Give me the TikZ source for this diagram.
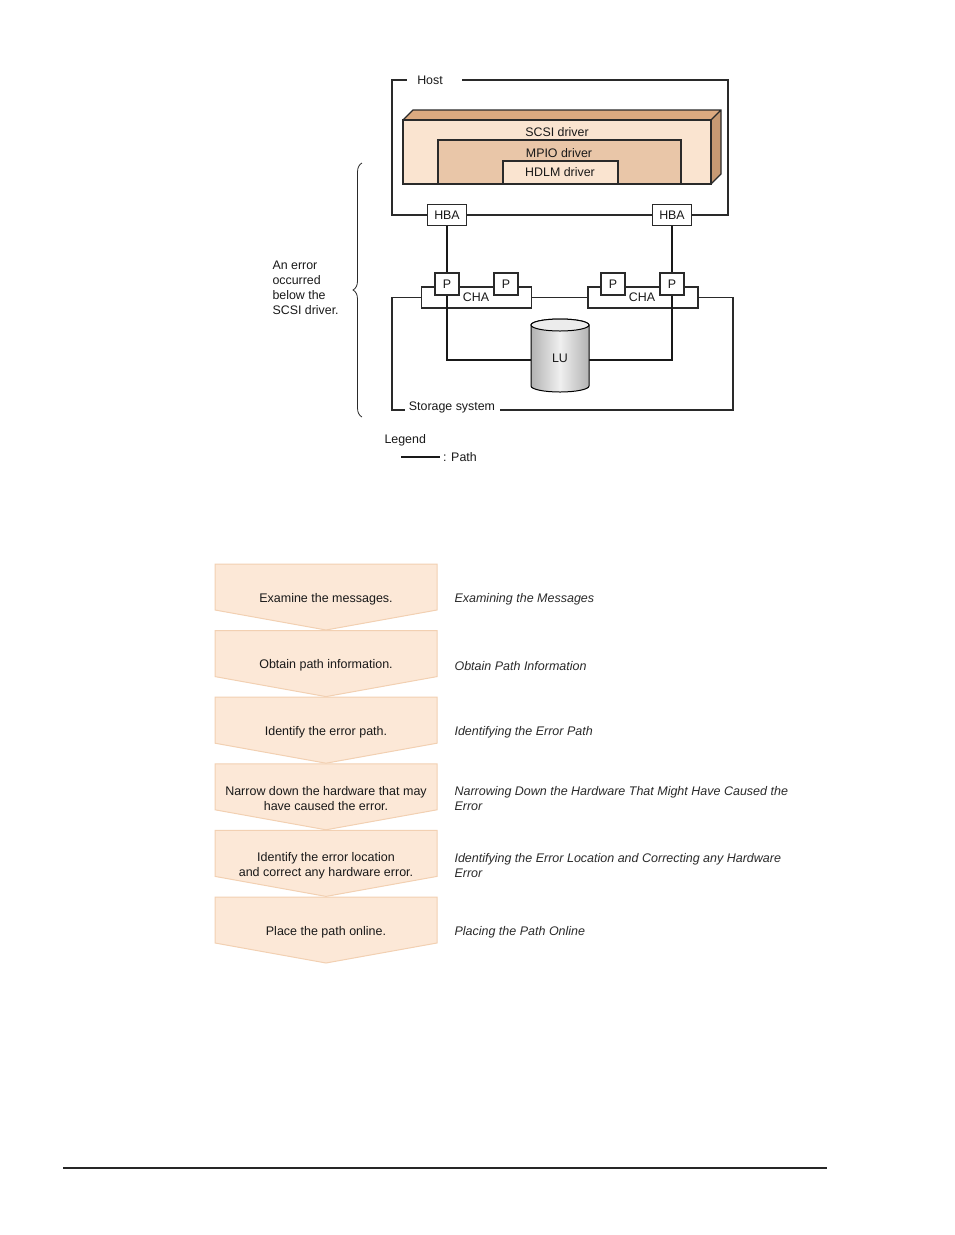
\documentclass[tikz,border=0pt]{standalone}
\usepackage{fontspec}
\setmainfont{Liberation Sans}
\usetikzlibrary{decorations.pathreplacing}
\definecolor{drvlight}{HTML}{FAE4D0}
\definecolor{drvdark}{HTML}{DCAA80}
\definecolor{mpiofill}{HTML}{E9C6A8}
\definecolor{stepfill}{HTML}{FCE8D7}
\definecolor{stepedge}{HTML}{F2D0B2}
\definecolor{framegray}{HTML}{2A2A2A}
\definecolor{reftext}{HTML}{2A2A2A}

\begin{document}
\begin{tikzpicture}[x=1pt, y=-1pt,
    every node/.style={font=\fontsize{12.4}{15}\selectfont, text=black!90},
    frame/.style={draw=framegray, line width=1.1pt},
    hw/.style={draw=framegray, fill=white, line width=1.1pt, inner sep=0pt},
    pathline/.style={draw=black!90, line width=1.8pt},
    chevron/.style={fill=stepfill, draw=stepedge, line width=1pt},
    steptext/.style={align=center, font=\fontsize{12.5}{15}\selectfont},
    reftext/.style={align=left, anchor=west, text=reftext, font=\fontsize{12.5}{15}\selectfont\itshape}]
    \useasboundingbox (0,0) rectangle (954,1235);

    % host and drivers
    \fill[drvdark] (403,120) -- (413,110) -- (721,110) -- (711,120) -- cycle;
    \fill[drvdark!90!black] (711,120) -- (721,110) -- (721,174) -- (711,184) -- cycle;
    \draw[frame] (403,120) -- (413,110) -- (721,110) -- (721,174) -- (711,184) (711,120) -- (721,110);
    \draw[frame, fill=drvlight] (403,120) rectangle (711,184);
    \draw[frame, fill=mpiofill] (438,140) rectangle (681,184);
    \draw[frame, fill=drvlight] (503,161) rectangle (618,184);
    \node (scsi) at (557,132.5) {SCSI driver};
    \node (mpio) at (559,153.5) {MPIO driver};
    \node (hdlm) at (560,172.5) {HDLM driver};

    \node (host) at (430,80.5) {Host};
    \node[hw, minimum width=39, minimum height=21] (hbaL) at (447,215) {HBA};
    \node[hw, minimum width=39, minimum height=21] (hbaR) at (672,215) {HBA};
    \draw[frame] (hbaL.west) -| (392,80) -- (407,80);
    \draw[frame] (462,80) -| (728,215) -- (hbaR.east);
    \draw[frame] (hbaL) -- (hbaR);

    % storage system
    \node[hw, minimum width=110, minimum height=21] (chaL) at (476.5,297.5) {};
    \node[hw, minimum width=110, minimum height=21] (chaR) at (643,297.5) {};
    \node (storage) at (452,407.5) {Storage system};
    \draw[frame] (chaL.west) -| (392,410) -- (405,410);
    \draw[frame] (500,410) -| (733,297.5) -- (chaR.east);
    \draw[frame] (chaL) -- (chaR);

    % LU
    \draw[line width=1pt, left color=gray!60, right color=gray!60, middle color=gray!12]
        (531,325) -- (531,386) arc[start angle=180, end angle=360, x radius=29pt, y radius=6pt]
        -- (589,325) arc[start angle=0, end angle=180, x radius=29pt, y radius=6pt] -- cycle;
    \draw[line width=1pt, fill=gray!15] (560,325) ellipse[x radius=29pt, y radius=6pt];
    \node (lu) at (560,358.5) {LU};
    \coordinate (luL) at (531,360);
    \coordinate (luR) at (589,360);

    % paths
    \draw[pathline] (hbaL.south) |- (luL);
    \draw[pathline] (hbaR.south) |- (luR);

    \node[hw, minimum width=24, minimum height=22] (pA) at (447,284) {P};
    \node[hw, minimum width=24, minimum height=22] (pB) at (506,284) {P};
    \node[hw, minimum width=24, minimum height=22] (pC) at (613,284) {P};
    \node[hw, minimum width=24, minimum height=22] (pD) at (672,284) {P};
    \node (chaLtxt) at (476,297.5) {CHA};
    \node (chaRtxt) at (642,297.5) {CHA};

    % brace
    \node[align=left, anchor=west] (err) at (269,287.5) {An error\\occurred\\below the\\SCSI driver.};
    \draw[framegray, line width=0.8pt, decorate, decoration={brace, amplitude=9pt}] (362,417) -- (362,163);

    % legend
    \node[anchor=west] (legend) at (381,440) {Legend};
    \node[anchor=west, inner sep=3pt] (legpath) at (440,457) {: Path};
    \coordinate (legA) at (401,457);
    \draw[pathline] (legA) -- (legpath.west);

    % procedure
    \foreach \i/\txt/\rtxt in {
        0/{Examine the messages.}/{Examining the Messages},
        1/{Obtain path information.}/{Obtain Path Information},
        2/{Identify the error path.}/{Identifying the Error Path},
        3/{Narrow down the hardware that may\\have caused the error.}/{Narrowing Down the Hardware That Might Have Caused the\\Error},
        4/{Identify the error location\\and correct any hardware error.}/{Identifying the Error Location and Correcting any Hardware\\Error},
        5/{Place the path online.}/{Placing the Path Online}} {
        \pgfmathsetmacro\ytop{564+66.6*\i}
        \draw[chevron] (215,\ytop) -- (437,\ytop) -- (437,\ytop+46) -- (326,\ytop+66) -- (215,\ytop+46) -- cycle;
        \node[steptext] (step\i) at (326,\ytop+35) {\txt};
        \node[reftext] (ref\i) at (451,\ytop+35) {\rtxt};
    }

    \draw[black!85, line width=1.2pt] (63,1168) -- (827,1168);
\end{tikzpicture}
\end{document}
